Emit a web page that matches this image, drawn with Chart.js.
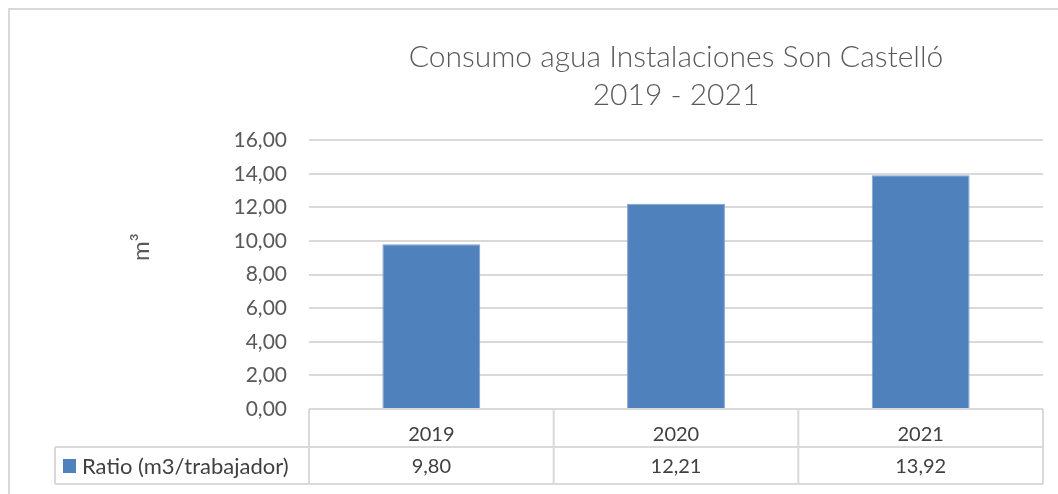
<!DOCTYPE html>
<html>
<head>
<meta charset="utf-8">
<script src="https://cdn.jsdelivr.net/npm/chart.js@4.4.0/dist/chart.umd.min.js"></script>
<style>
  body { margin: 0; background: #fff; }
  #wrap { width: 1058px; height: 494px; position: relative; }
</style>
</head>
<body>
<div id="wrap"><canvas id="grafico"></canvas></div>
<script>
// Datos del gráfico
const anios = ['2019', '2020', '2021'];
const ratio = [9.80, 12.21, 13.92];
const serieNombre = 'Ratio (m3/trabajador)';
const tituloLineas = ['Consumo agua Instalaciones Son Castelló', '2019 - 2021'];
const ejeYTitulo = 'm³';

const azul = '#4F81BD';
const gris = '#595959';
const lineaGris = '#d9d9d9';
const fuente = 'Lato, "Open Sans", sans-serif';

const numES = v => v.toFixed(2).replace('.', ',');

// Tabla de datos debajo del eje X (estilo Excel) + título del eje Y
const tablaDatos = {
  id: 'tablaDatos',
  beforeDraw(chart) {
    const ctx = chart.ctx;
    ctx.save();
    ctx.strokeStyle = lineaGris;
    ctx.lineWidth = 2;
    ctx.beginPath();
    ctx.moveTo(9, 494);
    ctx.lineTo(9, 9);
    ctx.lineTo(1058, 9);
    ctx.stroke();
    ctx.restore();
  },
  afterDraw(chart) {
    const ctx = chart.ctx;
    const area = chart.chartArea;
    const x = chart.scales.x;
    const y0 = area.bottom;
    const y1 = y0 + 38;
    const y2 = y1 + 37;
    const izq = 55;
    const paso = (area.right - area.left) / anios.length;

    ctx.save();
    ctx.strokeStyle = lineaGris;
    ctx.lineWidth = 2;
    ctx.beginPath();
    ctx.moveTo(area.left, y0); ctx.lineTo(area.right, y0);
    ctx.moveTo(izq, y1); ctx.lineTo(area.right, y1);
    ctx.moveTo(izq, y2); ctx.lineTo(area.right, y2);
    ctx.moveTo(izq, y1); ctx.lineTo(izq, y2);
    for (let i = 0; i <= anios.length; i++) {
      const xx = area.left + paso * i;
      ctx.moveTo(xx, y0); ctx.lineTo(xx, y2);
    }
    ctx.stroke();

    // celda de leyenda
    ctx.fillStyle = azul;
    ctx.fillRect(63, y1 + 12, 13, 14);
    ctx.fillStyle = '#404040';
    ctx.font = '22px ' + fuente;
    ctx.textBaseline = 'middle';
    ctx.textAlign = 'left';
    ctx.fillText(serieNombre, 82, (y1 + y2) / 2 + 1);

    // valores
    ctx.font = '20px ' + fuente;
    ctx.textAlign = 'center';
    ratio.forEach((v, i) => {
      ctx.fillText(numES(v), x.getPixelForValue(i), (y1 + y2) / 2 + 1);
    });

    // título eje Y (m³), un poco por encima del centro como en Excel
    ctx.translate(141, 247);
    ctx.rotate(-Math.PI / 2);
    ctx.fillStyle = gris;
    ctx.font = '24px ' + fuente;
    ctx.fillText(ejeYTitulo, 0, 0);
    ctx.restore();
  }
};

new Chart(document.getElementById('grafico'), {
  type: 'bar',
  data: {
    labels: anios,
    datasets: [{
      label: serieNombre,
      data: ratio,
      backgroundColor: azul,
      borderColor: '#7ea2d1',
      borderWidth: 1,
      barPercentage: 0.4,
      categoryPercentage: 1
    }]
  },
  options: {
    responsive: true,
    maintainAspectRatio: false,
    animation: false,
    layout: { padding: { left: 0, right: 15, top: 0, bottom: 0 } },
    plugins: {
      legend: { display: false },
      tooltip: { enabled: false },
      title: {
        display: true,
        text: tituloLineas,
        fullSize: false,
        color: gris,
        font: { family: fuente, size: 30, weight: '300', lineHeight: 1.27 },
        padding: { top: 38, bottom: 26 }
      }
    },
    scales: {
      x: {
        grid: { display: false },
        border: { display: false },
        ticks: { color: '#404040', font: { family: fuente, size: 20 }, padding: 6 },
        afterFit: s => { s.height = 85; }
      },
      y: {
        min: 0,
        max: 16,
        ticks: {
          stepSize: 2,
          color: gris,
          padding: 22,
          font: { family: fuente, size: 21 },
          callback: v => numES(v)
        },
        grid: { color: lineaGris, lineWidth: 2, drawTicks: false },
        border: { display: false },
        afterFit: s => { s.width = 309; }
      }
    }
  },
  plugins: [tablaDatos]
});
</script>
</body>
</html>
